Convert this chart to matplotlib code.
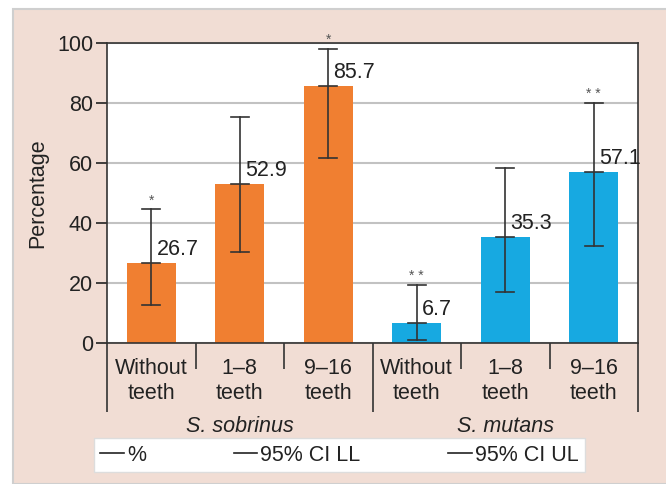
import numpy as np
import matplotlib.pyplot as plt
from matplotlib.patches import Rectangle
from matplotlib.lines import Line2D

plt.rcParams['font.family'] = ['Liberation Sans Narrow', 'Liberation Sans', 'DejaVu Sans']

## Data
categories = ['Without\nteeth', '1\u20138\nteeth', '9\u201316\nteeth',
              'Without\nteeth', '1\u20138\nteeth', '9\u201316\nteeth']
groups = ['S. sobrinus', 'S. mutans']
values = [26.7, 52.9, 85.7, 6.7, 35.3, 57.1]
ci_ll = [12.8, 30.3, 61.8, 1.1, 16.9, 32.2]
ci_ul = [44.6, 75.3, 98.0, 19.4, 58.4, 80.0]
stars = ['*', '', '*', '* *', '', '* *']

orange = '#f07f31'
blue = '#17a9e1'
pink = '#f1ddd4'
colors = [orange]*3 + [blue]*3
fs = 15.5

fig = plt.figure(figsize=(6.66, 4.84), dpi=100)
fig.patch.set_facecolor('white')
# pink panel with a light border
fig.patches.append(Rectangle((13/666, 0), 1, 1 - 9/484, transform=fig.transFigure,
                             facecolor=pink, edgecolor='#cfcfcf', linewidth=1.5, zorder=-10))

ax = fig.add_axes([107/666, 1 - 343/484, 531/666, 300/484])
x = np.arange(len(values)) + 0.5
ax.bar(x, values, width=0.55, color=colors, zorder=2)

## error bars with caps at LL, value and UL
for xi, v, lo, hi, s in zip(x, values, ci_ll, ci_ul, stars):
    ax.plot([xi, xi], [lo, hi], color='#333333', lw=1.2, zorder=3)
    for yy in (lo, v, hi):
        ax.plot([xi - 0.1, xi + 0.1], [yy, yy], color='#333333', lw=1.2, zorder=3)
    ax.text(xi + 0.06, v + 1.0, str(v), fontsize=fs, color='#222222',
            ha='left', va='bottom', zorder=4)
    if s:
        ax.text(xi, hi + 0.6, s, fontsize=10, color='#555555',
                ha='center', va='bottom', zorder=4)

ax.set_xlim(0, 6)
ax.set_ylim(0, 100)
ax.set_yticks([0, 20, 40, 60, 80, 100])
ax.tick_params(axis='y', labelsize=fs, length=8, width=1.2, colors='#222222', pad=2)
ax.yaxis.grid(True, color='#c2c2c2', lw=1.5, zorder=0)
ax.set_axisbelow(True)
for sp in ax.spines.values():
    sp.set_color('#333333')
    sp.set_linewidth(1.2)

ax.set_ylabel('Percentage', fontsize=fs, color='#222222', labelpad=6)

## group separators below the axis
ax.set_xticks([0, 3, 6])
ax.set_xticks([1, 2, 4, 5], minor=True)
ax.tick_params(axis='x', which='major', length=50, width=1.2, labelbottom=False, color='#333333')
ax.tick_params(axis='x', which='minor', length=19, width=1.2, labelbottom=False, color='#333333')

trans = ax.get_xaxis_transform()
for xi, lab in zip(x, categories):
    ax.text(xi, -0.05, lab, transform=trans, fontsize=fs, color='#222222',
            ha='center', va='top', linespacing=1.25)
for gx, g in zip([1.5, 4.5], groups):
    ax.text(gx, -0.245, g, transform=trans, fontsize=fs, style='italic',
            color='#222222', ha='center', va='top')

## legend
handles = [Line2D([], [], color='#222222', lw=1.2) for _ in range(3)]
fig.legend(handles, ['%', '95% CI LL', '95% CI UL'], loc='lower left',
           bbox_to_anchor=(94/666, 1 - 472/484, 491/666, 33/484), mode='expand',
           borderaxespad=0, ncol=3, fontsize=fs, frameon=True, fancybox=False,
           edgecolor='#dddddd', framealpha=1, handlelength=1.1, handletextpad=0.15,
           borderpad=0.3, columnspacing=1.0, labelcolor='#222222')

fig.savefig('out.png', dpi=100, facecolor=fig.get_facecolor())
